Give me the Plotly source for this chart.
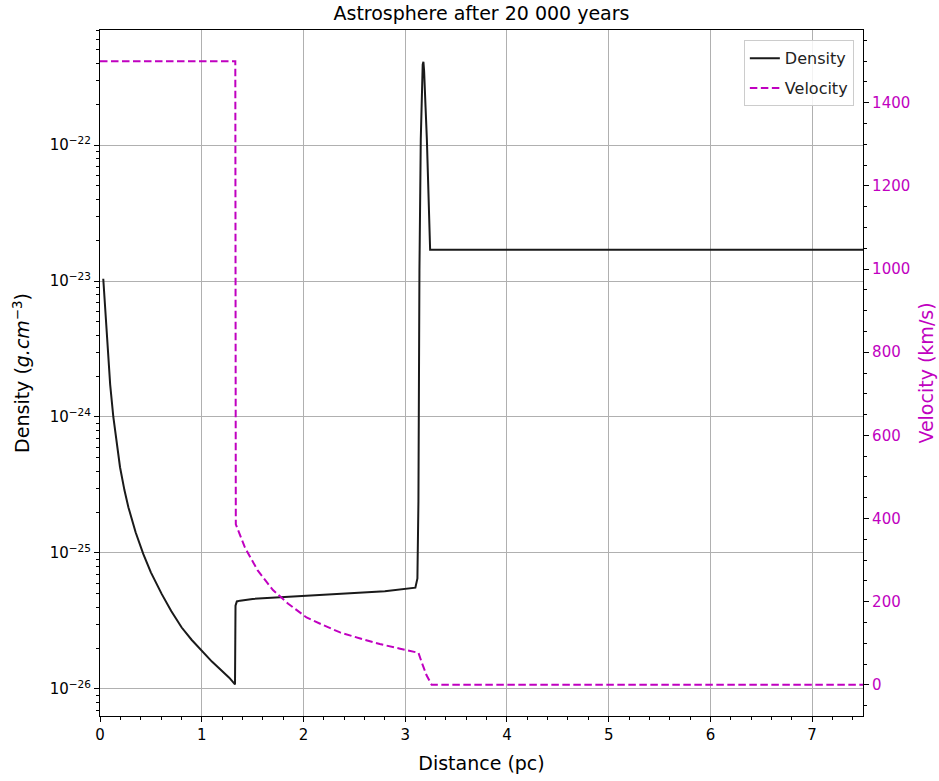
import plotly.graph_objects as go

# ---------------- data ----------------
dist_density = [0.032, 0.04, 0.055, 0.082, 0.1, 0.131, 0.16, 0.197, 0.24, 0.279, 0.35, 0.426,
                0.5, 0.606, 0.7, 0.803, 0.9, 1.0, 1.1, 1.197, 1.27, 1.327,
                1.332, 1.345, 1.377, 1.5, 1.77, 2.0, 2.4, 2.8, 3.1, 3.12, 3.13, 3.14,
                3.153, 3.163, 3.172, 3.179, 3.186, 3.2, 3.213, 3.245, 7.5]
density = [1.04e-23, 8.3e-24, 6.0e-24, 2.6e-24, 1.73e-24, 1.0e-24, 6.6e-25, 4.27e-25, 2.9e-25,
           2.17e-25, 1.42e-25, 9.8e-26, 7.2e-26, 5.0e-26, 3.74e-26, 2.83e-26, 2.3e-26, 1.9e-26,
           1.59e-26, 1.36e-26, 1.21e-26, 1.08e-26,
           4.1e-26, 4.4e-26, 4.46e-26, 4.59e-26, 4.72e-26, 4.81e-26, 4.98e-26, 5.22e-26, 5.56e-26,
           6.5e-26, 2.4e-25, 1.2e-23, 1.1e-22, 2.8e-22, 3.9e-22, 4.1e-22,
           3.5e-22, 1.9e-22, 1.1e-22, 1.7e-23, 1.7e-23]

dist_velocity = [0.0, 1.33, 1.335, 1.359, 1.425, 1.55, 1.7, 1.85, 2.03, 2.2, 2.36, 2.55, 2.75,
                 2.95, 3.13, 3.161, 3.21, 3.26, 7.5]
velocity = [1500, 1500, 386, 370, 330, 275, 228, 195, 162, 143, 126, 112, 98, 87, 77, 55, 23, 0, 0]

title_text = "Astrosphere after 20 000 years"
x_label = "Distance (pc)"
density_label = "Density (<i>g.cm</i><sup>−3</sup>)"
velocity_label = "Velocity (km/s)"

x_ticks = [0, 1, 2, 3, 4, 5, 6, 7]
density_ticks = [1e-26, 1e-25, 1e-24, 1e-23, 1e-22]
density_tick_labels = ["10<sup>−26</sup>", "10<sup>−25</sup>", "10<sup>−24</sup>",
                       "10<sup>−23</sup>", "10<sup>−22</sup>"]
velocity_ticks = [0, 200, 400, 600, 800, 1000, 1200, 1400]

# ---------------- styling ----------------
MAG = "#c000c0"
FONT = "DejaVu Sans"
minor_log = [k * 10.0 ** n for n in range(-27, -21) for k in range(2, 10)]

fig = go.Figure()
fig.add_trace(go.Scatter(x=dist_density, y=density, name="Density", mode="lines",
                         legendgroup="d",
                         line=dict(color="#1a1a1a", width=2), yaxis="y"))
fig.add_trace(go.Scatter(x=dist_velocity, y=velocity, name="Velocity", mode="lines",
                         legendgroup="v",
                         line=dict(color=MAG, width=2, dash="7.5px,3.5px"), yaxis="y2"))

fig.update_layout(
    width=939, height=781,
    margin=dict(l=100, r=76, t=30, b=65),
    paper_bgcolor="white", plot_bgcolor="white",
    font=dict(family=FONT, color="black", size=15),
    title=dict(text=title_text, x=0.5, xref="paper", xanchor="center",
               y=1 - 13 / 781, yref="container", yanchor="middle",
               font=dict(size=19, family=FONT, color="black")),
    xaxis=dict(range=[0, 7.5], tickmode="array", tickvals=x_ticks, automargin=False,
               ticks="outside", ticklen=5, tickwidth=1, tickcolor="black",
               showline=True, linecolor="black", linewidth=1.2, mirror=True,
               showgrid=True, gridcolor="#b0b0b0", gridwidth=0.8, zeroline=False,
               tickfont=dict(size=15),
               minor=dict(ticks="outside", ticklen=3, tickwidth=1, tickcolor="black",
                          dtick=0.2, showgrid=False),
               title=dict(text=x_label, font=dict(size=19), standoff=13)),
    yaxis=dict(type="log", range=[-26.199, -21.154], tickmode="array", automargin=False,
               tickvals=density_ticks, ticktext=density_tick_labels,
               ticks="outside", ticklen=5, tickwidth=1, tickcolor="black",
               showline=True, linecolor="black", linewidth=1.2,
               showgrid=True, gridcolor="#b0b0b0", gridwidth=0.8, zeroline=False,
               tickfont=dict(size=15),
               minor=dict(ticks="outside", ticklen=3, tickwidth=1, tickcolor="black",
                          tickmode="array", tickvals=minor_log, showgrid=False),
               title=dict(text=density_label, font=dict(size=19), standoff=14)),
    yaxis2=dict(overlaying="y", side="right", range=[-75, 1575], tickmode="array",
                tickvals=velocity_ticks, automargin=False,
                ticks="outside", ticklen=5, tickwidth=1, tickcolor="black",
                showline=True, linecolor="black", linewidth=1.2,
                showgrid=False, zeroline=False,
                tickfont=dict(size=15, color=MAG),
                minor=dict(ticks="outside", ticklen=3, tickwidth=1, tickcolor="black",
                           dtick=50, showgrid=False),
                title=dict(text=velocity_label, font=dict(size=19, color=MAG), standoff=10)),
    legend=dict(x=0.988, y=0.985, xanchor="right", yanchor="top",
                bgcolor="rgba(255,255,255,0.85)", bordercolor="#cccccc", borderwidth=1,
                tracegroupgap=6, itemwidth=30,
                font=dict(size=16, color="#222222")),
    showlegend=True,
)

fig.write_html("out.html")
